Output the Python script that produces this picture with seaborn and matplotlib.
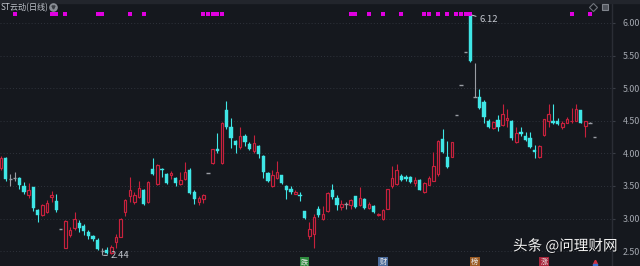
import numpy as np
import pandas as pd
import matplotlib
matplotlib.use("Agg")
import matplotlib.pyplot as plt
import seaborn as sns
from matplotlib.patches import Rectangle
from matplotlib.transforms import blended_transform_factory
import matplotlib.patheffects as pe

# ---------------- data ----------------
title = "ST云动(日线)"
opens = [3.78, 3.93, 3.60, 3.62, 3.62, 3.50, 3.36, 3.48, 3.13, 3.05,
         3.10, 3.33, 3.27, 2.84, 2.55, 2.75, 2.85, 2.93, 2.89, 2.79,
         2.73, 2.67, 2.50, 2.52, 2.47, 2.64, 2.72, 3.10, 3.35, 3.26,
         3.33, 3.44, 3.25, 3.76, 3.53, 3.76, 3.68, 3.66, 3.62, 3.53,
         3.60, 3.74, 3.41, 3.26, 3.30, 3.70, 3.85, 4.07, 3.85, 4.66,
         4.40, 4.19, 4.10, 4.27, 4.15, 4.03, 4.11, 3.96, 3.70, 3.50,
         3.62, 3.66, 3.50, 3.45, 3.38, 3.36, 3.11, 2.73, 2.76, 3.14,
         2.99, 3.11, 3.44, 3.31, 3.18, 3.22, 3.21, 3.34, 3.20, 3.30,
         3.16, 3.19, 3.05, 2.99, 3.15, 3.50, 3.53, 3.65, 3.63, 3.64,
         3.55, 3.59, 3.40, 3.52, 3.58, 3.69, 4.22, 3.94, 3.95, 4.59,
         5.05, 5.56, 6.12, 4.87, 4.86, 4.78, 4.50, 4.39, 4.51, 4.43,
         4.51, 4.50, 4.17, 4.32, 4.27, 4.24, 4.05, 3.94, 4.28, 4.50,
         4.49, 4.50, 4.41, 4.47, 4.49, 4.50, 4.66, 4.42, 4.47, 4.25]
highs = [3.96, 3.95, 3.68, 3.71, 3.64, 3.56, 3.54, 3.49, 3.14, 3.22,
         3.28, 3.42, 3.38, 2.84, 2.97, 2.87, 3.10, 2.98, 2.92, 2.82,
         2.75, 2.70, 2.55, 2.56, 2.60, 2.76, 3.01, 3.30, 3.64, 3.41,
         3.57, 3.45, 3.57, 3.93, 3.83, 3.77, 3.70, 3.73, 3.64, 3.71,
         3.86, 3.77, 3.43, 3.35, 3.38, 3.70, 4.07, 4.31, 4.48, 4.80,
         4.54, 4.21, 4.40, 4.29, 4.17, 4.28, 4.13, 3.97, 3.71, 3.74,
         3.88, 3.67, 3.52, 3.50, 3.43, 3.40, 3.12, 2.94, 3.07, 3.19,
         3.19, 3.40, 3.53, 3.36, 3.28, 3.26, 3.30, 3.35, 3.48, 3.31,
         3.26, 3.20, 3.08, 3.14, 3.46, 3.80, 3.83, 3.68, 3.66, 3.65,
         3.64, 3.60, 3.56, 3.65, 4.02, 4.20, 4.37, 4.19, 4.18, 4.59,
         5.05, 5.56, 6.12, 5.38, 4.99, 4.82, 4.53, 4.49, 4.58, 4.76,
         4.68, 4.51, 4.40, 4.40, 4.33, 4.33, 4.13, 4.12, 4.53, 4.76,
         4.76, 4.54, 4.49, 4.55, 4.70, 4.76, 4.67, 4.50, 4.48, 4.25]
lows = [3.74, 3.57, 3.50, 3.58, 3.45, 3.38, 3.31, 3.12, 2.95, 3.04,
        3.09, 3.25, 3.10, 2.84, 2.54, 2.71, 2.83, 2.80, 2.74, 2.68,
        2.66, 2.52, 2.44, 2.45, 2.46, 2.55, 2.71, 3.04, 3.26, 3.22,
        3.32, 3.21, 3.24, 3.66, 3.52, 3.63, 3.53, 3.61, 3.50, 3.52,
        3.59, 3.37, 3.22, 3.21, 3.24, 3.70, 3.84, 4.00, 3.84, 4.38,
        4.08, 4.00, 4.06, 4.11, 4.05, 4.01, 3.93, 3.62, 3.56, 3.49,
        3.61, 3.53, 3.30, 3.38, 3.37, 3.27, 3.00, 2.69, 2.55, 3.03,
        2.98, 3.10, 3.30, 3.13, 3.13, 3.15, 3.15, 3.16, 3.19, 3.15,
        3.14, 3.09, 3.04, 2.98, 3.14, 3.47, 3.52, 3.57, 3.58, 3.55,
        3.50, 3.43, 3.39, 3.51, 3.57, 3.65, 4.00, 3.77, 3.94, 4.59,
        5.05, 5.56, 5.40, 4.86, 4.68, 4.46, 4.39, 4.38, 4.34, 4.42,
        4.40, 4.21, 4.16, 4.26, 4.19, 4.08, 3.93, 3.93, 4.27, 4.40,
        4.45, 4.44, 4.37, 4.46, 4.46, 4.49, 4.46, 4.25, 4.46, 4.25]
closes = [3.93, 3.60, 3.60, 3.62, 3.51, 3.41, 3.44, 3.16, 3.05, 3.21,
          3.24, 3.36, 3.13, 2.84, 2.96, 2.82, 2.99, 2.85, 2.81, 2.73,
          2.68, 2.53, 2.50, 2.47, 2.57, 2.72, 3.00, 3.29, 3.44, 3.36,
          3.47, 3.22, 3.56, 3.68, 3.82, 3.74, 3.55, 3.70, 3.55, 3.59,
          3.72, 3.39, 3.30, 3.32, 3.36, 3.70, 4.06, 4.04, 4.47, 4.40,
          4.23, 4.12, 4.26, 4.18, 4.06, 4.16, 3.99, 3.72, 3.57, 3.67,
          3.71, 3.54, 3.44, 3.40, 3.41, 3.34, 3.01, 2.84, 3.03, 3.06,
          3.07, 3.39, 3.33, 3.20, 3.23, 3.22, 3.29, 3.17, 3.31, 3.16,
          3.23, 3.10, 3.07, 3.13, 3.45, 3.62, 3.75, 3.59, 3.61, 3.56,
          3.59, 3.44, 3.55, 3.62, 3.80, 4.19, 4.02, 3.79, 4.17, 4.59,
          5.05, 5.56, 5.41, 4.87, 4.69, 4.56, 4.41, 4.48, 4.40, 4.60,
          4.54, 4.24, 4.31, 4.30, 4.20, 4.09, 4.02, 4.11, 4.52, 4.60,
          4.46, 4.45, 4.47, 4.53, 4.50, 4.68, 4.47, 4.49, 4.47, 4.25]
signal_days = [3, 11, 12, 14, 21, 22, 28, 31, 44, 45, 46, 47, 48, 76, 77, 80,
               83, 87, 92, 93, 95, 97, 99, 100, 101, 102, 124, 128]
y_ticks = [2.50, 3.00, 3.50, 4.00, 4.50, 5.00, 5.50, 6.00]
event_days = [66, 83, 103, 118]
event_labels = ["跌", "财", "榜", "涨"]
high_label, low_label = "6.12", "2.44"

# ---------------- style ----------------
BG = "#15181e"
RED = "#c8213d"
CYAN = "#3fe6e6"
GRAY = "#9a9da4"
TXT = "#a4a8b0"
W, H, DPI = 640, 266, 100

sns.set_theme(style="dark", rc={"axes.facecolor": BG, "figure.facecolor": BG})
plt.rcParams["font.family"] = ["Noto Sans CJK SC", "DejaVu Sans"]

df = pd.DataFrame({"o": opens, "h": highs, "l": lows, "c": closes})
df["x"] = np.arange(len(df))
df["dir"] = np.sign(df["c"] - df["o"])

fig = plt.figure(figsize=(W / DPI, H / DPI), dpi=DPI)
ax = fig.add_axes([0, 0, 612 / W, 1])
ax.set_facecolor(BG)

# price mapping: 4.00 at y=153.3px, 65.2 px per unit
ymax = 4 + 153.3 / 65.2
ymin = 4 - (H - 153.3) / 65.2
ax.set_ylim(ymin, ymax)
ax.set_xlim(-0.22, 132.8)

for t in y_ticks:
    ax.axhline(t, color="#2f333c", lw=0.7, ls=(0, (1, 2.2)), zorder=0)

bw = 0.72
colmap = {1: RED, -1: CYAN, 0: GRAY}
for d, sub in df.groupby("dir"):
    col = colmap[int(d)]
    ax.vlines(sub["x"], sub["l"], sub["h"], color=col, lw=0.8, zorder=2)
    if d == 0:
        ax.hlines(sub["c"], sub["x"] - bw / 2, sub["x"] + bw / 2, color=GRAY, lw=1.0, zorder=3)
    else:
        bottom = np.minimum(sub["o"], sub["c"])
        height = np.abs(sub["c"] - sub["o"])
        if d > 0:
            ax.bar(sub["x"], height, bottom=bottom, width=bw - 0.18, color=BG,
                   edgecolor=RED, linewidth=0.85, zorder=3)
        else:
            ax.bar(sub["x"], height, bottom=bottom, width=bw, color=CYAN,
                   edgecolor=CYAN, linewidth=0.3, zorder=3)

# signal dots
dot_level = 4 + (153.3 - 14) / 65.2
sns.scatterplot(x=signal_days, y=[dot_level] * len(signal_days), marker="s",
                color="#e000e0", s=6, linewidth=0, ax=ax, zorder=4, legend=False)

# axes styling
ax.yaxis.tick_right()
ax.set_yticks(y_ticks)
ax.set_yticklabels([f"{t:.2f}" for t in y_ticks])
ax.tick_params(axis="y", colors="#3a3e46", length=2.5, width=0.8, pad=5,
               labelcolor=TXT, labelsize=6.4, right=True)
ax.set_xticks([])
ax.set_xlabel("")
ax.set_ylabel("")
for s in ["left", "top", "bottom"]:
    ax.spines[s].set_visible(False)
ax.spines["right"].set_color("#2a2d35")
ax.spines["right"].set_linewidth(1.0)
ax.grid(False)

# extreme labels
i_hi = int(np.argmax(highs))
i_lo = int(np.argmin(lows))
ax.annotate(high_label, xy=(i_hi + 0.3, highs[i_hi]), xytext=(5.5, -3.5),
            textcoords="offset points", color="#c4c8d0", fontsize=6.8,
            va="center", ha="left",
            arrowprops=dict(arrowstyle="-", color="#c4c8d0", lw=0.7,
                            shrinkA=0, shrinkB=0), zorder=6)
ax.annotate(low_label, xy=(i_lo + 0.3, lows[i_lo] - 0.005), xytext=(5, 0),
            textcoords="offset points", color="#c4c8d0", fontsize=6.8,
            va="center", ha="left",
            arrowprops=dict(arrowstyle="-", color="#c4c8d0", lw=0.7,
                            shrinkA=0, shrinkB=0), zorder=6)

# event tags at bottom
tr = blended_transform_factory(ax.transData, ax.transAxes)
ev_colors = ["#2e8b3e", "#4a6a9a", "#9a5a22", "#a8243a"]
for d, lab, col in zip(event_days, event_labels, ev_colors):
    ax.text(d, 0.0, lab, transform=tr, ha="center", va="bottom", fontsize=5.2,
            color="#e8e8e8", zorder=7,
            bbox=dict(boxstyle="square,pad=0.15", fc=col, ec="none"))
ax.plot([129], [0.015], marker="^", color="#d03040", markersize=3.2, transform=tr,
        clip_on=False, zorder=7)
ax.plot([129], [0.0], marker="s", color="#3a70d0", markersize=2.5, transform=tr,
        clip_on=False, zorder=7)

# top strip
fig.patches.append(Rectangle((0, 1 - 3 / H), 1, 3 / H, transform=fig.transFigure,
                             color="#22252c", zorder=0))

# title and icons
fig.text(1 / W, 1 - 7.5 / H, title, color="#c2c6ce", fontsize=5.9, ha="left", va="center")
fig.lines.append(plt.Line2D([53 / W], [1 - 7 / H], marker="o", markersize=5.2,
                            color="#8a8e96", transform=fig.transFigure))
fig.lines.append(plt.Line2D([53 / W], [1 - 7.3 / H], marker="v", markersize=2.2,
                            color="#3a3d44", transform=fig.transFigure))
fig.lines.append(plt.Line2D([593 / W], [1 - 7 / H], marker="D", markersize=4,
                            mfc="none", mec="#70747c", mew=0.8, transform=fig.transFigure))
fig.lines.append(plt.Line2D([605 / W], [1 - 7 / H], marker="s", markersize=5,
                            mfc="#50545c", mec="#80848c", mew=0.8, transform=fig.transFigure))

# watermark
fig.text(513 / W, 1 - 246 / H, "头条 @问理财网", color="#f4f4f4", fontsize=10.5,
         ha="left", va="center", fontweight="medium", zorder=10,
         path_effects=[pe.withSimplePatchShadow(offset=(0.6, -0.6), shadow_rgbFace="#000000", alpha=0.6)])

fig.savefig("out.png", dpi=DPI, facecolor=BG)
